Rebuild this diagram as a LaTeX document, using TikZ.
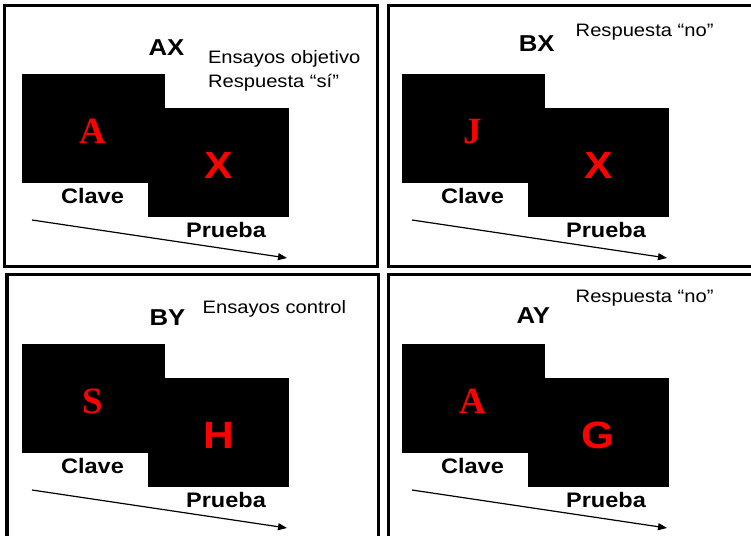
\documentclass[tikz,border=0pt]{standalone}
\usepackage{fontspec}
\usetikzlibrary{arrows.meta}
\newfontfamily\sansfam[FakeStretch=1.12]{Liberation Sans}
\newfontfamily\seriffam{Liberation Serif}
\tikzset{
  panel/.style={draw=black, line width=3.3pt},
  screen/.style={fill=black},
  cue/.style={inner sep=0pt, anchor=base, text=red, font=\seriffam\bfseries\fontsize{37}{37}\selectfont},
  probe/.style={inner sep=0pt, anchor=base, text=red, font=\sansfam\bfseries\fontsize{38}{38}\selectfont},
  stage/.style={inner sep=0pt, anchor=base, font=\sansfam\bfseries\fontsize{21}{21}\selectfont},
  trialname/.style={inner sep=0pt, anchor=base, font=\sansfam\bfseries\fontsize{23}{23}\selectfont},
  note/.style={inner sep=0pt, anchor=base west, font=\sansfam\fontsize{18}{18}\selectfont},
  timeline/.style={line width=1.2pt, -{Triangle[length=9pt,width=7pt]}},
}
% One trial: cue screen, probe screen, their labels and the time arrow.
% #1 name prefix, #2 cue letter, #3 probe letter
\newcommand\trialseq[3]{%
  \fill[screen] (22,74) rectangle (165,183);
  \fill[screen] (148,108) rectangle (289,217);
  \node[cue] (#1cue) at (93,143) {#2};
  \node[probe] (#1probe) at (218.5,178) {#3};
  \node[stage] (#1clave) at (92.5,203.5) {Clave};
  \node[stage] (#1prueba) at (226,237.5) {Prueba};
  \coordinate (#1start) at (32,220);
  \coordinate (#1end) at (287,258);
  \draw[timeline] (#1start) -- (#1end);
}
\begin{document}
\begin{tikzpicture}[x=1pt,y=-1pt]
  \useasboundingbox (0,0) rectangle (751,535);
  \clip (0,0) rectangle (751,535);
  \fill[white] (0,0) rectangle (751,535);

  % panel frames
  \draw[panel] (4.75,5.75) rectangle (377.5,266.8);
  \draw[panel] (388.5,5.75) rectangle (770,266.8);
  \draw[panel] (7,274.3) rectangle (378.5,560);
  \draw[panel] (388.5,274.3) rectangle (770,560);

  % AX
  \trialseq{ax}{A}{X}
  \node[trialname] (axname) at (166.5,56) {AX};
  \node[note] (axnote1) at (207.8,63.3) {Ensayos objetivo};
  \node[note] (axnote2) at (207.8,87.3) {Respuesta “sí”};

  % BX
  \begin{scope}[shift={(380,0)}]
    \trialseq{bx}{J}{X}
  \end{scope}
  \node[trialname] (bxname) at (536.7,51.7) {BX};
  \node[note] (bxnote) at (575.5,36.5) {Respuesta “no”};

  % BY
  \begin{scope}[shift={(0,270)}]
    \trialseq{by}{S}{H}
  \end{scope}
  \node[trialname] (byname) at (167.5,325) {BY};
  \node[note] (bynote) at (202.5,313.3) {Ensayos control};

  % AY
  \begin{scope}[shift={(380,270)}]
    \trialseq{ay}{A}{G}
  \end{scope}
  \node[trialname] (ayname) at (533.3,323) {AY};
  \node[note] (aynote) at (575.5,302) {Respuesta “no”};
\end{tikzpicture}
\end{document}
